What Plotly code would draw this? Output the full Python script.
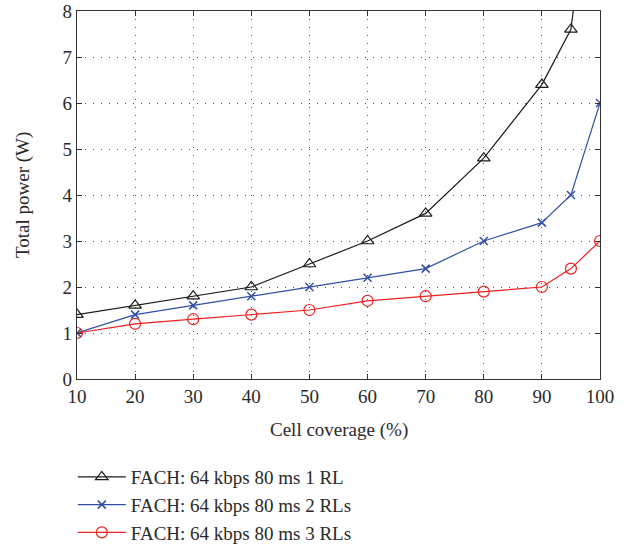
import plotly.graph_objects as go

coverage = [10, 20, 30, 40, 50, 60, 70, 80, 90, 95, 100]
rl1 = [1.4, 1.6, 1.8, 2.0, 2.5, 3.0, 3.6, 4.8, 6.4, 7.6, 12.6]
rl2 = [1.0, 1.4, 1.6, 1.8, 2.0, 2.2, 2.4, 3.0, 3.4, 4.0, 6.0]
rl3 = [1.0, 1.2, 1.3, 1.4, 1.5, 1.7, 1.8, 1.9, 2.0, 2.4, 3.0]
names = ["FACH: 64 kbps 80 ms 1 RL", "FACH: 64 kbps 80 ms 2 RLs", "FACH: 64 kbps 80 ms 3 RLs"]
x_ticks = [10, 20, 30, 40, 50, 60, 70, 80, 90, 100]
y_ticks = [0, 1, 2, 3, 4, 5, 6, 7, 8]
x_title = "Cell coverage (%)"
y_title = "Total power (W)"

FONT = "Liberation Serif"
TXT = "#2a2a2a"

fig = go.Figure()
fig.add_trace(go.Scatter(x=coverage, y=rl1, name=names[0], mode="lines+markers",
                         line=dict(color="#1a1a1a", width=1.2),
                         marker=dict(symbol="triangle-up-open", size=11, color="#1a1a1a", line=dict(width=1.2))))
fig.add_trace(go.Scatter(x=coverage, y=rl2, name=names[1], mode="lines+markers",
                         line=dict(color="#3050a8", width=1.2),
                         marker=dict(symbol="x-thin-open", size=8, color="#3050a8", line=dict(width=1.5, color="#3050a8"))))
fig.add_trace(go.Scatter(x=coverage, y=rl3, name=names[2], mode="lines+markers",
                         line=dict(color="#ee2020", width=1.2),
                         marker=dict(symbol="circle-open", size=11, color="#ee2020", line=dict(width=1.2))))

axis_common = dict(showline=True, linecolor="#333", linewidth=1.3, mirror="allticks",
                   ticks="inside", ticklen=5, tickcolor="#333",
                   showgrid=True, gridcolor="#555", griddash="1px,7px", gridwidth=1.1,
                   zeroline=False, automargin=False,
                   tickfont=dict(family=FONT, size=19, color=TXT))

fig.update_xaxes(range=[10, 100], tickvals=x_ticks, **axis_common)
fig.update_yaxes(range=[0, 8], tickvals=y_ticks, **axis_common)

fig.add_annotation(text=x_title, xref="paper", yref="paper", x=0.5, y=0, yanchor="middle",
                   yshift=-51, showarrow=False, font=dict(family=FONT, size=19, color=TXT))
fig.add_annotation(text=y_title, xref="paper", yref="paper", x=0, y=0.5, xanchor="center",
                   xshift=-54, textangle=-90, showarrow=False, font=dict(family=FONT, size=19, color=TXT))

fig.update_layout(
    width=624, height=546,
    margin=dict(l=77, r=24, t=11, b=167),
    paper_bgcolor="white", plot_bgcolor="white",
    showlegend=True,
    legend=dict(x=-0.008, y=0.161, xanchor="left", yanchor="top", yref="container",
                font=dict(family=FONT, size=19, color=TXT), itemwidth=48,
                bgcolor="rgba(0,0,0,0)", tracegroupgap=0),
)

fig.write_html("out.html", config={"displayModeBar": False},
               post_script="document.body.style.margin='0';")
